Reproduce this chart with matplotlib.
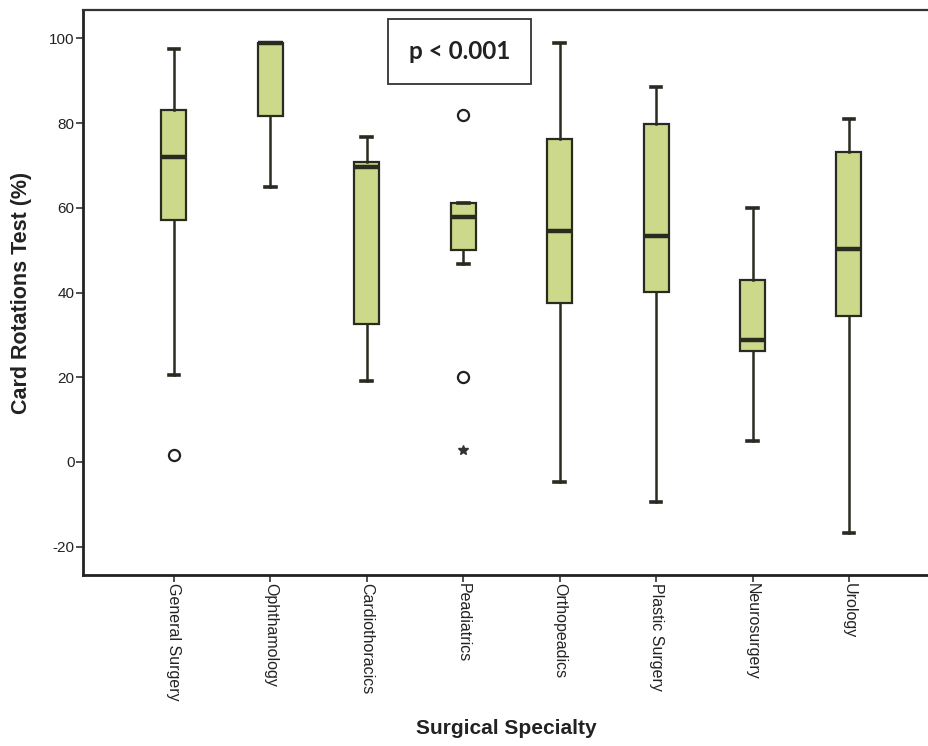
import matplotlib
matplotlib.use("Agg")
import matplotlib.pyplot as plt

plt.rcParams["axes.unicode_minus"] = False

# Card rotation scores per surgical specialty (box summary read from the SPSS output)
specialties = ["General Surgery", "Ophthamology", "Cardiothoracics", "Peadiatrics",
               "Orthopeadics", "Plastic Surgery", "Neurosurgery", "Urology"]
whisker_low = [20.5, 65.0, 19.0, 46.8, -4.8, -9.5, 5.0, -16.8]
q1 = [57.1, 81.6, 32.6, 50.0, 37.5, 40.2, 26.2, 34.5]
median = [72.0, 99.0, 69.6, 57.8, 54.6, 53.4, 28.8, 50.3]
q3 = [83.1, 99.0, 70.8, 61.2, 76.3, 79.8, 43.0, 73.2]
whisker_high = [97.5, 99.0, 76.7, 61.2, 98.9, 88.6, 60.0, 81.0]
outliers = [[1.6], [], [], [82.0, 20.0], [], [], [], []]
extremes = [[], [], [], [2.8], [], [], [], []]

p_text = "p < 0.001"

fill = "#ccd98a"
edge = "#2a2a20"

fig = plt.figure(figsize=(9.29, 7.46), dpi=100)
ax = fig.add_axes([83 / 929, 1 - 575 / 746, 1 - 83 / 929, 565 / 746])

stats = []
for i, name in enumerate(specialties):
    stats.append(dict(label=name, whislo=whisker_low[i], q1=q1[i], med=median[i],
                      q3=q3[i], whishi=whisker_high[i], fliers=outliers[i]))

pos = list(range(1, len(specialties) + 1))
ax.bxp(stats, positions=pos, widths=0.26, capwidths=0.11, patch_artist=True,
       boxprops=dict(facecolor=fill, edgecolor=edge, linewidth=1.6),
       medianprops=dict(color=edge, linewidth=3.2),
       whiskerprops=dict(color=edge, linewidth=1.8),
       capprops=dict(color=edge, linewidth=2.6),
       flierprops=dict(marker="o", markerfacecolor="none", markeredgecolor="#222222",
                       markersize=8, markeredgewidth=1.6))

# extreme values drawn as stars
for x, vals in zip(pos, extremes):
    if vals:
        ax.plot([x] * len(vals), vals, linestyle="none", marker="*",
                color="#333333", markersize=7)

ax.set_xlim(0.057, 8.83)
ax.set_ylim(-26.7, 106.7)
ax.set_yticks([-20, 0, 20, 40, 60, 80, 100])
ax.set_xticks(pos)
ax.set_xticklabels(specialties, rotation=270, fontsize=11.5,
                   family="Liberation Sans", color="#222222")
for lab in ax.get_yticklabels():
    lab.set_fontsize(11)
    lab.set_family("Liberation Sans")
    lab.set_color("#222222")
ax.tick_params(axis="both", length=5, width=1.2, color="#333333", pad=1)

for s in ["left", "bottom"]:
    ax.spines[s].set_linewidth(2.0)
    ax.spines[s].set_color("#222222")
ax.spines["top"].set_linewidth(1.6)
ax.spines["top"].set_color("#333333")
ax.spines["right"].set_visible(False)

ax.set_ylabel("Card Rotations Test (%)", fontsize=15.5, fontweight="bold",
              family="Liberation Sans", color="#222222")
ax.yaxis.set_label_coords(-0.06, 0.5)
ax.set_xlabel("Surgical Specialty", fontsize=15, fontweight="bold",
              family="Liberation Sans", color="#222222")
ax.xaxis.set_label_coords(0.5, -0.255)

ax.text(3.96, 96.9, p_text, ha="center", va="center", fontsize=17.5,
        fontweight="bold", family="Lato", color="#222222",
        bbox=dict(boxstyle="square,pad=0.85", facecolor="white",
                  edgecolor="#333333", linewidth=1.3))

fig.savefig("out.png", dpi=100)
